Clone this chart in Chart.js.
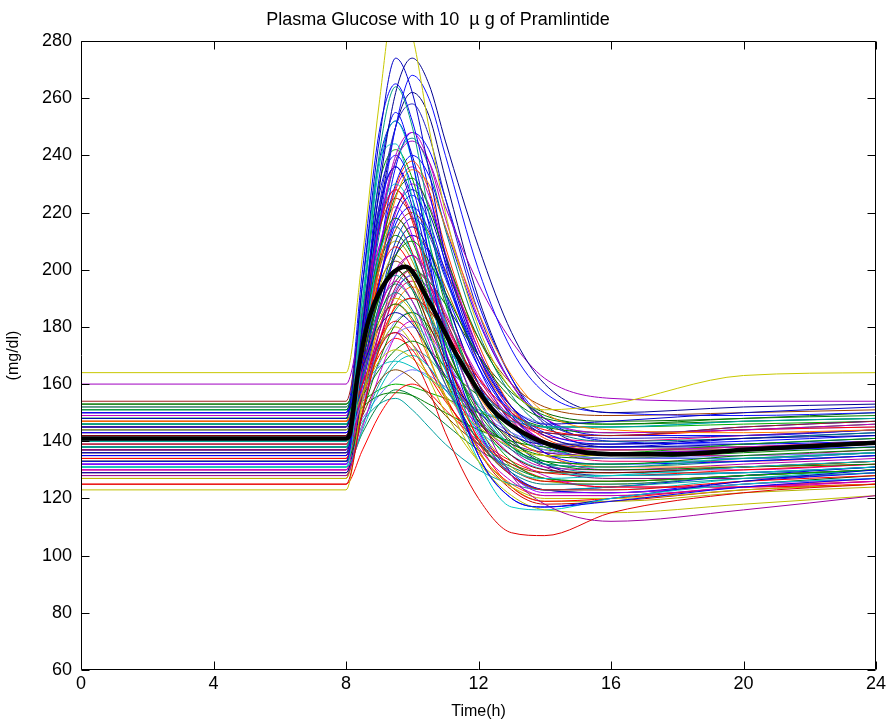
<!DOCTYPE html>
<html>
<head>
<meta charset="utf-8">
<title>Plasma Glucose with 10 µg of Pramlintide</title>
<script src="https://cdn.jsdelivr.net/npm/chart.js@4.4.1/dist/chart.umd.min.js"></script>
<style>
  html, body { margin: 0; padding: 0; background: #fff; }
  #wrap { width: 891px; height: 728px; }
</style>
</head>
<body>
<div id="wrap"><canvas id="chart" width="891" height="728"></canvas></div>
<script>
// Sample times (h) shared by every simulated subject
const hours = [0, 8, 8.5, 9, 9.5, 10, 10.5, 11, 12, 13, 14, 16, 20, 24];

// Plasma glucose (mg/dl) of each simulated subject at the sample times above
const runs = [
  [164,164,205,258,295,282,250,220,180,158,151,153,163,164],
  [148,148,195,245,274,262,235,205,170,152,146,147,150,152],
  [145,145,180,228,262,274,265,245,208,178,160,150,152,153],
  [150,150,175,215,250,268,260,240,200,172,157,150,149,150],
  [138,138,185,240,264,250,220,190,155,138,132,131,134,136],
  [133,133,180,232,255,238,205,172,135,120,117,119,124,127],
  [140,140,190,238,244,225,195,170,142,130,127,128,131,133],
  [160,160,185,215,238,245,238,222,195,175,162,155,154,154],
  [147,147,170,200,225,235,230,215,185,163,150,144,143,144],
  [125,125,150,172,178,170,158,143,120,108,107,115,122,125],
  [128,128,150,178,198,205,195,180,150,128,118,112,116,121],
  [123,123,155,182,190,185,170,155,133,121,116,115,118,121],
  [131,131,170,205,215,205,185,165,133,117,116,120,125,127],
  [136,136,175,220,236,222,195,168,135,120,117,120,126,130],
  [154,154,186,214,225,218,200,183,160,148,143,142,145,147],
  [153,153,170,190,205,210,203,192,170,155,148,146,148,149],
  [152,152,172,191,198,193,184,174,158,149,145,145,147,148],
  [151,151,176,205,226,232,222,205,176,158,149,146,147,148],
  [150,150,166,180,185,181,172,163,150,142,139,139,141,142],
  [149,149,180,215,240,248,238,218,183,160,148,143,144,146],
  [148,148,177,202,212,205,190,174,150,138,133,132,135,137],
  [147,147,160,175,187,190,186,178,162,150,144,142,144,145],
  [146,146,184,218,230,221,200,180,152,138,133,132,134,136],
  [145,145,165,185,200,205,198,185,163,148,140,137,138,140],
  [144,144,157,168,172,169,163,156,145,138,135,135,137,139],
  [143,143,168,195,216,222,214,198,170,152,143,139,140,142],
  [142,142,168,191,200,194,181,168,147,135,130,129,131,133],
  [141,141,154,167,177,180,176,168,153,143,137,134,135,136],
  [140,140,175,206,218,210,193,175,148,133,127,126,128,130],
  [139,139,170,203,229,238,228,208,174,152,141,137,138,140],
  [138,138,162,184,192,186,173,160,140,129,125,125,128,130],
  [137,137,157,178,194,200,195,184,162,147,139,135,135,137],
  [136,136,149,161,165,162,156,149,139,132,129,129,131,133],
  [135,135,163,195,218,226,217,199,166,146,136,132,133,135],
  [134,134,167,197,208,200,184,166,141,128,123,123,126,128],
  [133,133,150,168,181,185,180,170,152,140,133,130,131,132],
  [132,132,172,208,222,212,192,172,143,128,122,122,125,127],
  [131,131,144,158,167,170,166,158,144,135,130,128,129,131],
  [130,130,160,186,196,189,175,160,138,126,121,121,124,126],
  [129,129,156,185,207,215,207,190,160,141,132,128,129,131],
  [127,127,151,172,180,174,162,150,133,124,120,120,123,125],
  [125,125,137,149,157,160,157,151,140,132,127,124,124,125],
  [146,146,152,156,157,156,153,150,144,140,138,137,138,139],
  [138,138,147,153,155,151,145,139,130,125,123,124,127,129],
  [150,150,200,248,265,252,228,202,168,150,143,142,145,147],
  [142,142,178,222,250,258,247,225,185,160,147,141,142,144],
  [136,136,186,236,252,238,210,182,145,128,123,123,127,130],
  [148,148,190,230,242,232,210,188,158,143,137,136,139,141],
  [140,140,170,205,228,236,226,206,172,150,140,136,137,139],
  [133,133,176,214,228,217,195,172,140,124,119,120,124,126],
  [152,152,173,196,214,220,213,200,176,160,152,149,150,151],
  [146,146,165,182,188,183,172,162,147,139,135,134,136,138],
  [139,139,160,185,205,212,206,192,166,149,140,136,137,138],
  [134,134,152,172,188,194,189,178,156,142,135,131,131,133],
  [143,143,160,174,178,174,166,158,146,139,136,135,137,139],
  [137,137,182,222,236,225,202,178,144,128,123,124,128,131],
  [130,130,145,163,177,182,178,168,148,135,128,124,124,126],
  [151,151,159,166,168,166,162,158,151,147,145,145,147,148],
  [145,145,175,212,238,246,236,214,178,156,145,140,141,143],
  [128,128,163,193,205,197,180,162,137,124,119,119,122,124],
  [141,141,158,178,193,198,193,182,160,146,138,134,134,136],
  [148,148,156,165,172,175,172,166,156,149,145,143,144,146],
  [135,135,156,175,182,177,166,155,139,130,126,126,128,130],
  [144,144,170,200,221,228,220,203,172,152,142,138,139,141],
  [132,132,165,205,236,248,242,225,188,162,148,140,139,140],
  [153,153,168,184,196,200,196,188,170,157,150,147,148,150],
  [150,150,183,208,218,211,196,181,160,148,142,140,142,144],
  [149,149,160,172,182,185,182,175,161,151,146,143,144,145],
  [147,147,172,195,203,197,184,171,152,141,136,135,137,139],
  [146,146,172,206,230,240,233,215,182,160,148,142,142,144],
  [144,144,166,187,195,189,177,165,147,137,132,131,133,135],
  [143,143,162,186,205,212,207,194,168,151,142,137,137,139],
  [142,142,180,216,228,219,199,180,152,137,131,130,132,134],
  [141,141,156,173,186,190,186,177,158,145,138,134,134,136],
  [139,139,156,170,176,172,163,154,141,133,129,128,130,132],
  [138,138,160,188,210,218,212,197,168,149,139,134,134,136],
  [137,137,170,200,210,203,187,170,145,131,126,125,128,130],
  [136,136,154,175,191,196,192,181,160,146,138,133,133,135],
  [135,135,182,226,240,229,206,181,146,129,123,122,126,129],
  [134,134,146,160,169,172,169,162,148,138,132,129,129,131],
  [133,133,164,190,200,193,178,162,140,128,123,122,125,128],
  [132,132,160,195,220,230,223,205,170,148,136,130,130,132],
  [130,130,156,180,188,182,169,156,136,125,121,121,124,127],
  [129,129,150,174,192,198,193,180,155,139,131,127,127,129],
  [127,127,167,202,215,206,186,166,137,123,118,119,123,125],
  [148,148,154,158,160,159,157,155,150,147,145,145,146,147],
  [140,140,148,156,162,165,163,159,150,143,139,137,137,138],
  [145,145,195,238,252,240,216,192,160,145,139,138,141,143],
  [137,137,172,218,250,262,254,232,190,162,146,138,138,140],
  [131,131,143,153,158,156,151,146,137,131,127,126,128,130]
];

// Population mean curve
const meanHours   = [0, 8, 8.1, 8.35, 8.65, 9.1, 9.8, 10.5, 11.35, 12.35, 13.35, 14.4, 16, 18, 20, 24];
const meanGlucose = [141, 141, 142, 163, 181, 194, 201, 189, 170, 152, 143, 138, 135.5, 135.5, 137, 139.5];

// Axis tick values
const xTicks = [0, 4, 8, 12, 16, 20, 24];
const yTicks = [60, 80, 100, 120, 140, 160, 180, 200, 220, 240, 260, 280];

// Line colours, one per subject
const runColors = [
  '#c8c800','#0000c8','#000090','#1010ff','#00a080','#0000ff','#00c0c0','#a000c0',
  '#ff8000','#e00000','#a000a0','#c0c000','#00c8c8','#0000d0','#a02020','#008000',
  '#00a0a0','#008000','#0000a0','#c000c0','#008000','#ff0000','#00bfbf','#bf00bf',
  '#bfbf00','#0000ff','#800000','#8080ff','#00a000','#ff4000','#008080','#c00060',
  '#804000','#0000ff','#ff0000','#008000','#a000ff','#00bfbf','#c000c0','#0000a0',
  '#bfbf00','#ff0000','#008000','#00a0a0','#0000ff','#2020c0','#00c0c0','#00a000',
  '#c000c0','#ff0000','#a04000','#008000','#0000ff','#ff8000','#8000a0','#0000e0',
  '#d000d0','#00c0c0','#008080','#b0b000','#6060ff','#008000','#e00000','#0000c0',
  '#0000ff','#006400','#ff0080','#8080ff','#804000','#0000ff','#008080','#c06000',
  '#b000b0','#00a060','#ff0000','#0040c0','#a0a000','#e00060','#0000ff','#20a0a0',
  '#006000','#c000c0','#ff6000','#800080','#d00000','#00b000','#7070ff','#0000d0',
  '#000080','#008040'
];

const FONT = "'Liberation Sans', Arial, Helvetica, sans-serif";
Chart.defaults.font.family = FONT;
Chart.defaults.color = '#000';

const toPoints = (xs, ys) => xs.map((x, i) => ({ x: x, y: ys[i] }));

const datasets = [{
  label: 'mean',
  data: toPoints(meanHours, meanGlucose),
  borderColor: '#000',
  borderWidth: 4.5,
  order: 0
}].concat(runs.map((r, i) => ({
  label: 'subject ' + (i + 1),
  data: toPoints(hours, r),
  borderColor: runColors[i % runColors.length],
  borderWidth: 1,
  order: 1
})));

// Box round the plot area with inward tick marks on all four sides
const boxTicks = {
  id: 'boxTicks',
  afterDatasetsDraw(chart) {
    const { ctx, chartArea: a, scales: { x, y } } = chart;
    const L = Math.round(a.left) + 0.5, R = Math.round(a.right) - 0.5;
    const T = Math.round(a.top) + 0.5, B = Math.round(a.bottom) - 0.5;
    const len = 8;
    ctx.save();
    ctx.strokeStyle = '#000';
    ctx.lineWidth = 1;
    ctx.beginPath();
    ctx.rect(L, T, R - L, B - T);
    xTicks.forEach(v => {
      const px = Math.round(x.getPixelForValue(v)) + 0.5;
      ctx.moveTo(px, B); ctx.lineTo(px, B - len);
      ctx.moveTo(px, T); ctx.lineTo(px, T + len);
    });
    yTicks.forEach(v => {
      const py = Math.round(y.getPixelForValue(v)) + 0.5;
      ctx.moveTo(L, py); ctx.lineTo(L + len, py);
      ctx.moveTo(R, py); ctx.lineTo(R - len, py);
    });
    ctx.stroke();
    ctx.restore();
  }
};

new Chart(document.getElementById('chart'), {
  type: 'line',
  data: { datasets: datasets },
  options: {
    responsive: false,
    animation: false,
    devicePixelRatio: 1,
    layout: { padding: { left: 0, right: 15, top: 0, bottom: 0 } },
    elements: {
      point: { radius: 0 },
      line: { cubicInterpolationMode: 'monotone', fill: false }
    },
    plugins: {
      legend: { display: false },
      tooltip: { enabled: false },
      title: {
        display: true,
        text: 'Plasma Glucose with 10  \u00b5 g of Pramlintide',
        color: '#000',
        font: { size: 18, weight: 'normal', family: FONT },
        padding: { top: 9, bottom: 10.4 }
      }
    },
    scales: {
      x: {
        type: 'linear',
        min: 0, max: 24,
        afterBuildTicks: s => { s.ticks = xTicks.map(v => ({ value: v })); },
        afterFit: s => { s.height = 58; },
        grid: { display: false, drawTicks: false },
        border: { display: false },
        ticks: { color: '#000', font: { size: 18 }, padding: 3, maxRotation: 0 },
        title: { display: true, text: 'Time(h)', color: '#000', font: { size: 16 }, padding: { top: 0, bottom: 6.4 } }
      },
      y: {
        type: 'linear',
        min: 60, max: 280,
        afterBuildTicks: s => { s.ticks = yTicks.map(v => ({ value: v })); },
        afterFit: s => { s.width = 81; },
        grid: { display: false, drawTicks: false },
        border: { display: false },
        ticks: { color: '#000', font: { size: 18 }, padding: 9 },
        title: { display: true, text: '(mg/dl)', color: '#000', font: { size: 16 }, padding: { top: 4.4, bottom: 0 } }
      }
    }
  },
  plugins: [boxTicks]
});
</script>
</body>
</html>
